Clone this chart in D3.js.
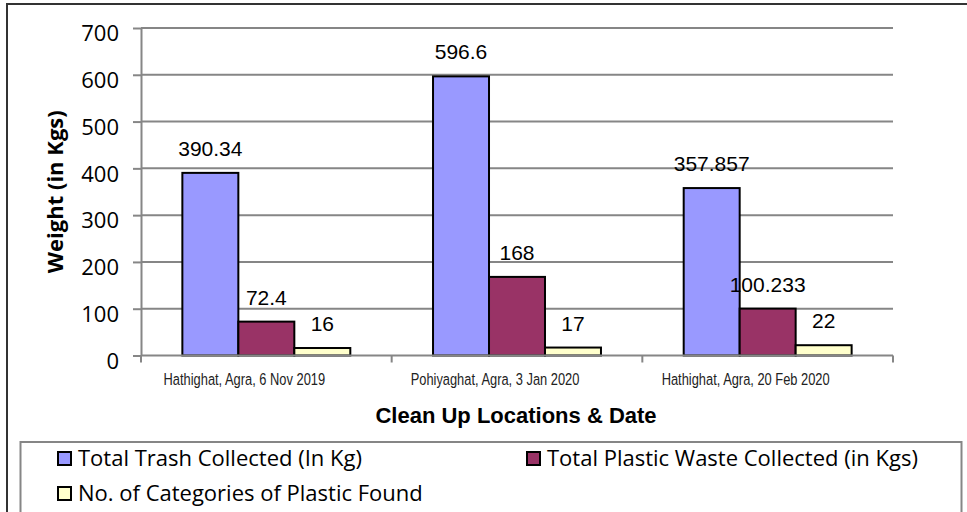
<!DOCTYPE html>
<html><head><meta charset="utf-8">
<script src="https://cdn.jsdelivr.net/npm/d3@7"></script>
<style>body{margin:0;background:#fff}svg{display:block}</style>
</head><body>
<svg id="c" width="967" height="512"></svg>
<script>
const categories = ["Hathighat, Agra, 6 Nov 2019", "Pohiyaghat, Agra, 3 Jan 2020", "Hathighat, Agra, 20 Feb 2020"];
const seriesNames = ["Total Trash Collected (In Kg)", "Total Plastic Waste Collected (in Kgs)", "No. of Categories of Plastic Found"];
const totalTrash = [390.34, 596.6, 357.857];
const plasticWaste = [72.4, 168, 100.233];
const plasticCategories = [16, 17, 22];
const valueLabels = [["390.34","596.6","357.857"],["72.4","168","100.233"],["16","17","22"]];
const yTicks = [0, 100, 200, 300, 400, 500, 600, 700];
const colors = ["#9999FF", "#993366", "#FFFFCC"];

const series = [totalTrash, plasticWaste, plasticCategories];
const svg = d3.select("#c");
const L = 141, R = 893, T = 28, B = 355.5;

// outer frame
svg.append("rect").attr("x", 7).attr("y", 4).attr("width", 980).attr("height", 520)
  .attr("fill", "none").attr("stroke", "#333").attr("stroke-width", 2);

const x0 = d3.scaleBand().domain(categories).range([L, R]).paddingInner(0.33).paddingOuter(0.165);
const x1 = d3.scaleBand().domain([0,1,2]).range([0, x0.bandwidth()]);
const y = d3.scaleLinear().domain([0, 700]).range([B, T]);

// gridlines
svg.append("g").selectAll("line").data(yTicks.filter(d => d > 0)).join("line")
  .attr("x1", L).attr("x2", R).attr("y1", d => y(d)).attr("y2", d => y(d))
  .attr("stroke", "#868686").attr("stroke-width", 2);

// y axis
const yAxis = svg.append("g").attr("transform", `translate(${L},0)`)
  .call(d3.axisLeft(y).tickValues(yTicks).tickSize(8).tickSizeOuter(0).tickPadding(14));
yAxis.select(".domain").attr("stroke", "#868686").attr("stroke-width", 2);
yAxis.selectAll(".tick line").attr("stroke", "#868686").attr("stroke-width", 2);
yAxis.selectAll(".tick text").attr("font-family", "'Open Sans', sans-serif").attr("font-size", 22)
  .attr("fill", "#000").attr("dy", "0.58em");

// bars
categories.forEach((c, i) => {
  const g = svg.append("g").attr("transform", `translate(${x0(c)},0)`);
  series.forEach((s, k) => {
    g.append("rect").attr("x", x1(k)).attr("y", y(s[i])).attr("width", x1.bandwidth())
      .attr("height", B - y(s[i])).attr("fill", colors[k]).attr("stroke", "#000").attr("stroke-width", 2);
    g.append("text").attr("x", x1(k) + x1.bandwidth() / 2).attr("y", y(s[i]) - 17)
      .attr("text-anchor", "middle").attr("font-family", "'Liberation Sans', Arial, sans-serif")
      .attr("font-size", 21).attr("fill", "#000").text(valueLabels[k][i]);
  });
});

// x axis
const xb = d3.scaleLinear().domain([0, 3]).range([L, R]);
const xAxis = svg.append("g").attr("transform", `translate(0,${B})`);
xAxis.append("line").attr("x1", L).attr("x2", R).attr("stroke", "#868686").attr("stroke-width", 2);
xAxis.selectAll("line.tk").data([0,1,2,3]).join("line").attr("class","tk")
  .attr("x1", d => xb(d)).attr("x2", d => xb(d)).attr("y1", 0).attr("y2", 7)
  .attr("stroke", "#868686").attr("stroke-width", 2);
xAxis.selectAll("text").data(categories).join("text")
  .attr("transform", d => `translate(${x0(d) + x0.bandwidth() / 2 - 22},29) scale(0.78,1)`)
  .attr("text-anchor", "middle")
  .attr("font-family", "'Liberation Sans', Arial, sans-serif")
  .attr("font-size", 16.5).attr("fill", "#222").text(d => d);

// axis titles
svg.append("text").attr("x", 516).attr("y", 423).attr("text-anchor", "middle")
  .attr("font-family", "'Liberation Sans', Arial, sans-serif").attr("font-weight", "bold")
  .attr("font-size", 22).text("Clean Up Locations & Date");
svg.append("text").attr("transform", `translate(63,${(T + B) / 2}) rotate(-90)`).attr("text-anchor", "middle")
  .attr("font-family", "'Open Sans', sans-serif").attr("font-weight", "bold")
  .attr("font-size", 22).text("Weight (in Kgs)");

// legend
svg.append("rect").attr("x", 20.5).attr("y", 442).attr("width", 941).attr("height", 100)
  .attr("fill", "#fff").attr("stroke", "#868686").attr("stroke-width", 2);
const legPos = [[58, 452], [527, 452], [58, 487]];
seriesNames.forEach((n, k) => {
  const g = svg.append("g").attr("transform", `translate(${legPos[k][0]},${legPos[k][1]})`);
  g.append("rect").attr("x", 0).attr("y", 0).attr("width", 13).attr("height", 13)
    .attr("fill", colors[k]).attr("stroke", "#000").attr("stroke-width", 2);
  g.append("text").attr("x", 20).attr("y", 14).attr("font-family", "'Open Sans', sans-serif")
    .attr("font-size", 22).attr("fill", "#000").text(n);
});
</script>
</body></html>
